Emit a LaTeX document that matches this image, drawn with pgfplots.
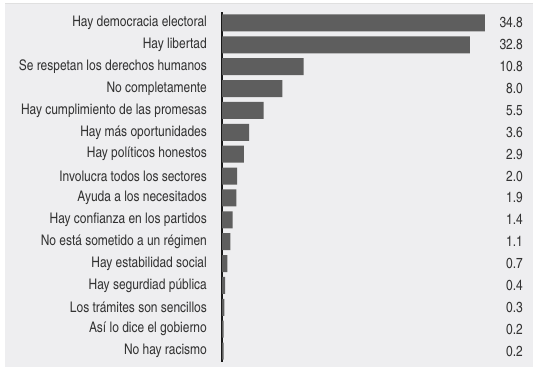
\documentclass[border=0pt]{standalone}
\usepackage{pgfplots}
\pgfplotsset{compat=1.18}
\usepackage{fontspec}
\setmainfont{TeX Gyre Heros Cn}
\definecolor{panel}{HTML}{EEEEF0}
\definecolor{bargray}{HTML}{5E5E5E}
\definecolor{txt}{HTML}{333333}
\begin{document}
\begin{tikzpicture}[x=1bp,y=1bp]
\fill[white] (0,0) rectangle (536,370);
\fill[panel] (5,3) rectangle (533,367);
\draw[black!12, line width=0.8bp] (5,367) -- (533,367);
\begin{axis}[
  at={(222bp,8bp)}, anchor=south west,
  scale only axis, width=306bp, height=350bp,
  xmin=0, xmax=40.5, ymin=-0.5, ymax=15.5,
  y dir=reverse,
  xbar, bar width=17bp,
  axis x line=none,
  axis y line*=left,
  axis line style={-, line width=1.3bp, color=black!90},
  ytick={0,...,15},
  major tick length=0pt,
  yticklabels={Hay democracia electoral, Hay libertad, Se respetan los derechos humanos, No completamente, Hay cumplimiento de las promesas, Hay más oportunidades, Hay políticos honestos, Involucra todos los sectores, Ayuda a los necesitados, Hay confianza en los partidos, No está sometido a un régimen, Hay estabilidad social, Hay segurdiad pública, Los trámites son sencillos, Así lo dice el gobierno, No hay racismo},
  yticklabel style={font=\fontsize{14.6bp}{16bp}\selectfont, text=txt, inner sep=0pt, xshift=-15bp},
]
\addplot[fill=bargray, draw=none] coordinates {
(34.8,0) (32.8,1) (10.8,2) (8.0,3) (5.5,4) (3.6,5) (2.9,6) (2.0,7)
(1.9,8) (1.4,9) (1.1,10) (0.7,11) (0.4,12) (0.3,13) (0.2,14) (0.2,15)};
\end{axis}
\begin{axis}[
  at={(222bp,8bp)}, anchor=south west,
  scale only axis, width=306bp, height=350bp,
  xmin=0, xmax=40.5, ymin=-0.5, ymax=15.5,
  y dir=reverse,
  hide x axis,
  axis y line*=right,
  y axis line style={draw=none},
  ytick={0,...,15},
  major tick length=0pt,
  yticklabels={34.8,32.8,10.8,8.0,5.5,3.6,2.9,2.0,1.9,1.4,1.1,0.7,0.4,0.3,0.2,0.2},
  yticklabel style={font=\fontsize{14.6bp}{16bp}\selectfont, text=txt, inner sep=0pt, anchor=east, xshift=-5bp},
]
\addplot[draw=none] coordinates {(0,0)};
\end{axis}
\end{tikzpicture}
\end{document}
